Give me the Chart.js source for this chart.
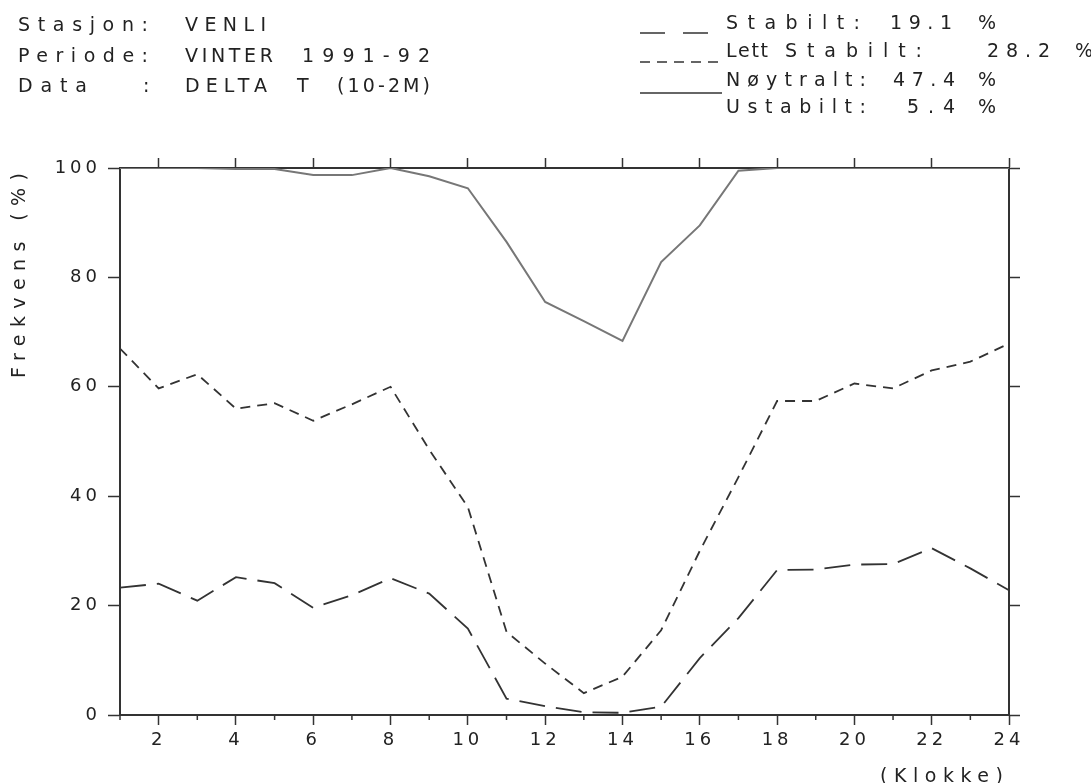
<!DOCTYPE html>
<html>
<head>
<meta charset="utf-8">
<script src="https://cdn.jsdelivr.net/npm/chart.js@4.4.0/dist/chart.umd.min.js"></script>
<style>
  body { margin: 0; background: #fff; }
  #wrap { position: relative; width: 1091px; height: 783px; }
  #wrap canvas { position: absolute; left: 0; top: 0; }
  .t { position: absolute; font-family: 'DejaVu Sans'; font-size: 19px; line-height: 19px; color: #222; white-space: pre; }
  #keys { position: absolute; left: 0; top: 0; }
</style>
</head>
<body>
<div id="wrap">
  <canvas id="chart" width="1091" height="783"></canvas>
  <svg id="keys" width="1091" height="120">
    <line x1="640" y1="33" x2="708" y2="33" stroke="#333" stroke-width="1.6" stroke-dasharray="25 18"/>
    <line x1="640" y1="62" x2="722" y2="62" stroke="#333" stroke-width="1.6" stroke-dasharray="10 7"/>
    <line x1="640" y1="93" x2="722" y2="93" stroke="#333" stroke-width="1.6"/>
  </svg>
</div>
<script>
// hour of day
const hours = [1, 2, 3, 4, 5, 6, 7, 8, 9, 10, 11, 12, 13, 14, 15, 16, 17, 18, 19, 20, 21, 22, 23, 24]
const xLabelHours = [2, 4, 6, 8, 10, 12, 14, 16, 18, 20, 22, 24]
const yTickValues = [0, 20, 40, 60, 80, 100]

// cumulative frequency (%) per hour
const stabilt = [23.3, 24.0, 20.9, 25.2, 24.1, 19.6, 21.9, 25.0, 22.2, 15.8, 3.0, 1.6,
                 0.5, 0.4, 1.5, 10.4, 17.7, 26.5, 26.6, 27.5, 27.6, 30.5, 26.8, 22.8]
const lettStabilt = [67.0, 59.7, 62.3, 56.0, 57.0, 53.8, 56.8, 60.0, 48.5, 38.0, 15.2, 9.4,
                     4.0, 7.0, 15.5, 30.0, 43.5, 57.4, 57.4, 60.6, 59.7, 63.0, 64.6, 67.9]
const noytralt = [100, 100, 100, 99.8, 99.8, 98.7, 98.7, 100, 98.5, 96.3, 86.5, 75.5,
                  72.0, 68.4, 82.8, 89.5, 99.5, 100, 100, 100, 100, 100, 100, 100]

const stationText = ['Stasjon:', 'VENLI']
const periodText = ['Periode:', 'VINTER', '1991-92']
const dataText = ['Data', ':', 'DELTA', 'T', '(10-2M)']
const legendNames = ['Stabilt:', 'Lett', 'Stabilt:', 'Nøytralt:', 'Ustabilt:']
const legendShares = ['19.1', '28.2', '47.4', '5.4']

const wrap = document.getElementById('wrap')
const measureCtx = document.createElement('canvas').getContext('2d')
measureCtx.font = '19px "DejaVu Sans"'

// put a piece of text between x0 and x1, spreading letters like the plotter font
function addText(str, x0, x1, yc, vertical) {
    const el = document.createElement('div')
    el.className = 't'
    el.textContent = str
    const w = measureCtx.measureText(str).width
    if (str.length > 1 && x1) {
        el.style.letterSpacing = ((Math.abs(x1 - x0) - w) / (str.length - 1)) + 'px'
    }
    if (vertical) {
        el.style.left = (yc - 9.1) + 'px'
        el.style.top = x0 + 'px'
        el.style.transformOrigin = '0 0'
        el.style.transform = 'rotate(-90deg)'
    } else {
        el.style.left = x0 + 'px'
        el.style.top = (yc - 9.1) + 'px'
    }
    wrap.appendChild(el)
}

addText(stationText[0], 18, 148, 24)
addText(stationText[1], 185, 266, 24)
addText(periodText[0], 18, 148, 55)
addText(periodText[1], 185, 273, 55)
addText(periodText[2], 302, 430, 55)
addText(dataText[0], 18, 87, 85)
addText(dataText[1], 143, 0, 85)
addText(dataText[2], 185, 267, 85)
addText(dataText[3], 297, 0, 85)
addText(dataText[4], 337, 430, 85)

addText(legendNames[0], 726, 860, 22)
addText(legendShares[0], 890, 952, 22)
addText('%', 978, 0, 22)
addText(legendNames[1], 726, 768, 50)
addText(legendNames[2], 785, 922, 50)
addText(legendShares[1], 987, 1050, 50)
addText('%', 1075, 0, 50)
addText(legendNames[3], 726, 866, 79)
addText(legendShares[2], 893, 955, 79)
addText('%', 978, 0, 79)
addText(legendNames[4], 726, 866, 106)
addText(legendShares[3], 907, 955, 106)
addText('%', 978, 0, 106)

addText('Frekvens (%)', 378, 173, 18, true)
addText('(Klokke)', 880, 1003, 775)

function toPoints(values) {
    return hours.map((h, i) => ({ x: h, y: values[i] }))
}

const spacing = {
    id: 'spacing',
    beforeDraw(chart) {
        chart.ctx.letterSpacing = '4px'
    },
    afterDraw(chart) {
        // short ticks on the odd hours below the bottom axis
        const ctx = chart.ctx
        const xs = chart.scales.x
        ctx.save()
        ctx.strokeStyle = '#333'
        ctx.lineWidth = 1.5
        hours.forEach(h => {
            if (xLabelHours.includes(h)) return
            const px = xs.getPixelForValue(h)
            ctx.beginPath()
            ctx.moveTo(px, xs.top)
            ctx.lineTo(px, xs.top + 5)
            ctx.stroke()
        })
        ctx.restore()
    }
}

const tickFont = { family: 'DejaVu Sans', size: 18 }
const evenTick = c => (c.tick && xLabelHours.includes(c.tick.value)) ? '#333' : 'rgba(0,0,0,0)'

new Chart(document.getElementById('chart'), {
    type: 'line',
    data: {
        datasets: [{
            label: 'Stabilt',
            data: toPoints(stabilt),
            borderColor: '#333',
            borderWidth: 1.8,
            borderDash: [26, 11],
            pointRadius: 0
        }, {
            label: 'Lett Stabilt',
            data: toPoints(lettStabilt),
            borderColor: '#333',
            borderWidth: 1.8,
            borderDash: [10, 7],
            pointRadius: 0
        }, {
            label: 'Nøytralt',
            data: toPoints(noytralt),
            borderColor: '#777',
            borderWidth: 2,
            pointRadius: 0
        }]
    },
    options: {
        responsive: false,
        animation: false,
        layout: { padding: 0 },
        plugins: {
            legend: { display: false },
            tooltip: { enabled: false }
        },
        scales: {
            x: {
                type: 'linear',
                position: 'bottom',
                min: 1,
                max: 24,
                afterFit: s => { s.height = 68 },
                ticks: {
                    stepSize: 1,
                    autoSkip: false,
                    maxRotation: 0,
                    color: '#222',
                    font: tickFont,
                    padding: 5,
                    callback: v => xLabelHours.includes(v) ? String(v) : ''
                },
                grid: { drawOnChartArea: false, tickLength: 10, tickWidth: 1.5, tickColor: evenTick },
                border: { color: '#333', width: 2 }
            },
            x2: {
                type: 'linear',
                position: 'top',
                min: 1,
                max: 24,
                afterFit: s => { s.height = 168 },
                ticks: { stepSize: 1, autoSkip: false, display: false },
                grid: { drawOnChartArea: false, tickLength: 10, tickWidth: 1.5, tickColor: evenTick },
                border: { color: '#333', width: 2 }
            },
            y: {
                position: 'left',
                min: 0,
                max: 100,
                afterFit: s => { s.width = 120 },
                afterBuildTicks: s => { s.ticks = yTickValues.map(v => ({ value: v })) },
                ticks: { color: '#222', font: tickFont, padding: 7 },
                grid: { drawOnChartArea: false, tickLength: 12, tickWidth: 1.5, tickColor: '#333' },
                border: { color: '#333', width: 2 }
            },
            y2: {
                position: 'right',
                min: 0,
                max: 100,
                afterFit: s => { s.width = 82 },
                afterBuildTicks: s => { s.ticks = yTickValues.map(v => ({ value: v })) },
                ticks: { display: false },
                grid: { drawOnChartArea: false, tickLength: 11, tickWidth: 1.5, tickColor: '#333' },
                border: { color: '#333', width: 2 }
            }
        }
    },
    plugins: [spacing]
})
</script>
</body>
</html>
